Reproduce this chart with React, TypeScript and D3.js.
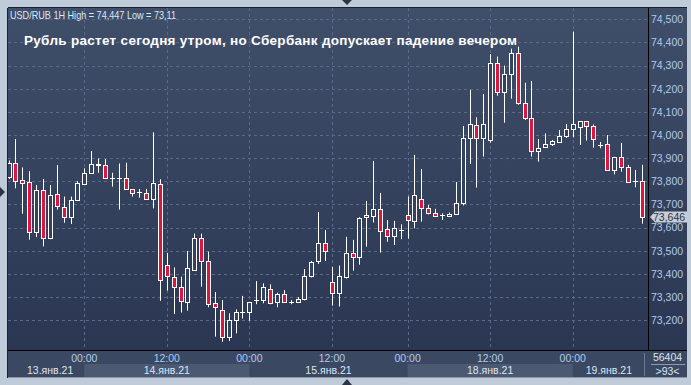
import React from "react";
import * as d3 from "d3";

// ---- Data (USD/RUB 1H, 93 candles) ----
const opens = [73.820,73.878,73.804,73.798,73.582,73.761,73.556,73.744,73.688,73.644,73.718,73.790,73.835,73.869,73.869,73.813,73.812,73.813,73.765,73.751,73.748,73.722,73.787,73.437,73.385,73.342,73.280,73.415,73.554,73.456,73.273,73.243,73.126,73.200,73.234,73.234,73.287,73.287,73.333,73.277,73.312,73.277,73.277,73.290,73.390,73.456,73.534,73.364,73.316,73.385,73.489,73.475,73.645,73.652,73.679,73.593,73.562,73.591,73.653,73.627,73.722,73.683,73.665,73.653,73.650,73.659,73.705,73.986,74.042,73.986,73.977,74.310,74.185,74.262,74.353,74.137,74.072,73.930,73.950,73.963,73.971,73.994,74.025,74.033,74.059,74.039,73.958,73.960,73.848,73.905,73.862,73.800,73.800];
const highs = [73.890,73.983,73.860,73.844,73.784,73.810,73.784,73.870,73.734,73.734,73.801,73.856,73.931,73.899,73.896,73.837,73.877,73.880,73.766,73.767,73.767,74.012,73.809,73.491,73.428,73.388,73.499,73.574,73.574,73.496,73.322,73.287,73.230,73.247,73.305,73.279,73.369,73.359,73.355,73.319,73.330,73.287,73.300,73.421,73.456,73.668,73.590,73.430,73.436,73.560,73.547,73.645,73.715,73.888,73.750,73.633,73.629,73.614,73.735,73.914,73.853,73.698,73.681,73.662,73.665,73.797,74.039,74.195,74.077,74.177,74.350,74.339,74.300,74.373,74.382,74.226,74.233,73.983,74.007,73.979,74.022,74.048,74.447,74.060,74.060,74.046,73.970,74.000,73.906,73.966,73.871,73.849,73.871];
const lows = [73.810,73.770,73.660,73.548,73.559,73.519,73.550,73.678,73.621,73.616,73.716,73.784,73.833,73.837,73.810,73.777,73.678,73.763,73.734,73.729,73.720,73.683,73.284,73.328,73.227,73.233,73.241,73.413,73.345,73.256,73.129,73.107,73.110,73.143,73.207,73.198,73.269,73.273,73.269,73.256,73.275,73.269,73.276,73.286,73.385,73.443,73.456,73.263,73.259,73.380,73.414,73.440,73.518,73.622,73.492,73.539,73.525,73.550,73.552,73.597,73.626,73.657,73.647,73.633,73.649,73.657,73.696,73.875,73.773,73.907,73.967,74.170,74.053,74.157,74.131,74.065,73.907,73.885,73.950,73.953,73.967,73.987,73.990,73.957,73.976,73.945,73.943,73.846,73.830,73.842,73.798,73.774,73.617];
const closes = [73.878,73.803,73.791,73.582,73.761,73.556,73.739,73.692,73.644,73.718,73.791,73.835,73.873,73.873,73.813,73.812,73.813,73.765,73.751,73.752,73.722,73.791,73.372,73.391,73.342,73.282,73.424,73.554,73.456,73.269,73.256,73.126,73.200,73.234,73.235,73.277,73.288,73.342,73.273,73.312,73.277,73.277,73.290,73.390,73.452,73.534,73.499,73.316,73.390,73.489,73.472,73.640,73.653,73.679,73.584,73.562,73.597,73.591,73.632,73.740,73.683,73.662,73.649,73.653,73.660,73.706,73.986,74.046,73.986,74.046,74.310,74.185,74.262,74.353,74.137,74.072,73.930,73.943,73.963,73.973,73.994,74.025,74.046,74.059,74.039,73.982,73.958,73.848,73.905,73.862,73.799,73.800,73.646];

const priceTicks = [73.2, 73.3, 73.4, 73.5, 73.6, 73.7, 73.8, 73.9, 74.0, 74.1, 74.2, 74.3, 74.4, 74.5];
const timeTickIndex = [11, 23, 35, 47, 58, 70, 82];
const timeTickLabels = ["00:00", "12:00", "00:00", "12:00", "00:00", "12:00", "00:00"];
const dayStartIndex = [11, 35, 58, 82];
const dayLabels = ["13.янв.21", "14.янв.21", "15.янв.21", "18.янв.21", "19.янв.21"];

const titleText = "USD/RUB 1H High = 74,447 Low = 73,11";
const headline = "Рубль растет сегодня утром, но Сбербанк допускает падение вечером";
const volumeText = "56404";
const barsText = ">93<";

const W = 691, H = 385;
const PL = 8, PR = 648, PT = 8, PB = 350;

export default function App() {
  const n = opens.length;
  const x = d3.scaleLinear().domain([0, n - 1]).range([8.6, 641.5]);
  const y = d3.scaleLinear().domain([73.2, 74.5]).range([320.2, 19.3]);
  const fmt = (v: number) => d3.format(".3f")(v).replace(".", ",");
  const px = (v: number) => Math.round(v) + 0.5;

  const dayBounds = [PL, ...dayStartIndex.map((i) => x(i)), 645];
  const last = closes[n - 1];
  const ly = y(last);

  const font = "'Liberation Sans', Arial, sans-serif";

  return (
    <div style={{ position: "fixed", left: 0, top: 0 }}>
      <svg width={W} height={H} style={{ display: "block" }}>
        <defs>
          <linearGradient id="bg" x1="0" y1="0" x2="0" y2="1">
            <stop offset="0" stopColor="#3f4e69" />
            <stop offset="1" stopColor="#2b3752" />
          </linearGradient>
          <clipPath id="plotclip">
            <rect x={PL} y={PT} width={PR - PL} height={PB - PT} />
          </clipPath>
        </defs>
        {/* frame */}
        <rect x={0} y={0} width={W} height={H} fill="#bfcbd8" />
        {/* plot + right axis background */}
        <rect x={PL} y={PT} width={687 - PL} height={PB - PT} fill="url(#bg)" />
        {/* bottom axis panel */}
        <rect x={PL} y={PB} width={687 - PL} height={378 - PB} fill="#3b4861" />
        {dayBounds.slice(0, -1).map((b, k) =>
          k % 2 === 1 ? (
            <rect key={"band" + k} x={b} y={364} width={dayBounds[k + 1] - b} height={13} fill="#4b5973" />
          ) : null
        )}
        {/* grid */}
        <g clipPath="url(#plotclip)">
          {priceTicks.map((v) => (
            <line key={"h" + v} x1={PL} x2={PR} y1={px(y(v))} y2={px(y(v))} stroke="#5a6a86" strokeDasharray="3,3" />
          ))}
          {timeTickIndex.map((i) => (
            <line key={"v" + i} x1={px(x(i))} x2={px(x(i))} y1={PT} y2={PB} stroke="#5a6a86" strokeDasharray="3,3" />
          ))}
        </g>
        {/* candles */}
        <g clipPath="url(#plotclip)">
          {opens.map((o, i) => {
            const c = closes[i];
            const cx = Math.round(x(i));
            const up = c >= o;
            const top = Math.round(y(Math.max(o, c)));
            const bot = Math.round(y(Math.min(o, c)));
            const cross = Math.abs(o - c) < 0.004;
            return (
              <g key={"c" + i}>
                <line x1={cx + 0.5} x2={cx + 0.5} y1={y(highs[i])} y2={y(lows[i])} stroke="#ffffff" strokeWidth={1} />
                {cross ? (
                  <line x1={cx - 2} x2={cx + 3} y1={top + 0.5} y2={top + 0.5} stroke="#ffffff" strokeWidth={1} />
                ) : (
                  <rect
                    x={cx - 1.5}
                    y={top + 0.5}
                    width={4}
                    height={Math.max(1, bot - top)}
                    fill={up ? "#344260" : "#e0143c"}
                    stroke="#ffffff"
                    strokeWidth={1}
                  />
                )}
              </g>
            );
          })}
        </g>
        {/* borders */}
        <line x1={PL - 0.5} x2={PL - 0.5} y1={PT} y2={378} stroke="#1a2030" />
        <line x1={PL} x2={687} y1={PT - 0.5} y2={PT - 0.5} stroke="#1a2030" />
        <line x1={PR + 0.5} x2={PR + 0.5} y1={PT} y2={PB} stroke="#000000" />
        <line x1={PL} x2={687} y1={PB + 0.5} y2={PB + 0.5} stroke="#000000" />
        <line x1={644.5} x2={644.5} y1={353} y2={376} stroke="#6e7b90" />
        <line x1={PL} x2={687} y1={377.5} y2={377.5} stroke="#8a96a8" />
        {/* right axis labels */}
        {priceTicks.map((v) => (
          <text key={"yl" + v} x={651} y={y(v) + 3.8} fontSize={10.5} fontFamily={font} fill="#aecbef">
            {fmt(v)}
          </text>
        ))}
        {/* last price tag */}
        <path
          d={`M650,${ly} L655,${ly - 5.5} L687,${ly - 5.5} L687,${ly + 5.5} L655,${ly + 5.5} Z`}
          fill="#c9cdd4"
        />
        <text x={653} y={ly + 3.8} fontSize={10.5} fontFamily={font} fill="#2c3448">
          {fmt(last)}
        </text>
        {/* time labels */}
        {timeTickIndex.map((i, k) => (
          <text key={"tl" + k} x={x(i)} y={361.5} fontSize={10.5} fontFamily={font} fill="#aecbef" textAnchor="middle">
            {timeTickLabels[k]}
          </text>
        ))}
        {dayLabels.map((d, k) => (
          <text
            key={"dl" + k}
            x={(dayBounds[k] + dayBounds[k + 1]) / 2 + (k === 0 ? 4 : 0)}
            y={374}
            fontSize={10.5}
            fontFamily={font}
            fill="#dbe5f3"
            textAnchor="middle"
          >
            {d}
          </text>
        ))}
        {/* bottom-right box */}
        <text x={667.5} y={361} fontSize={10.5} fontFamily={font} fill="#dbe5f3" textAnchor="middle">
          {volumeText}
        </text>
        <line x1={651} x2={685} y1={364.5} y2={364.5} stroke="#8e9ab0" />
        <text x={667.5} y={375} fontSize={10.5} fontFamily={font} fill="#dbe5f3" textAnchor="middle">
          {barsText}
        </text>
        {/* titles */}
        <text x={10} y={18.5} fontSize={10.5} fontFamily={font} fill="#dfe8f5" textLength={166} lengthAdjust="spacingAndGlyphs">
          {titleText}
        </text>
        <text x={24} y={45} fontSize={13.5} fontWeight="bold" fontFamily={font} fill="#ffffff" textLength={493} lengthAdjust="spacing">
          {headline}
        </text>
        {/* markers */}
        <polygon points="342,0 352,0 347,5" fill="#2a3444" />
        <polygon points="342,385 352,385 347,379" fill="#2a3444" />
        <polygon points="0,187 0,197 5,192" fill="#2a3444" />
      </svg>
    </div>
  );
}
